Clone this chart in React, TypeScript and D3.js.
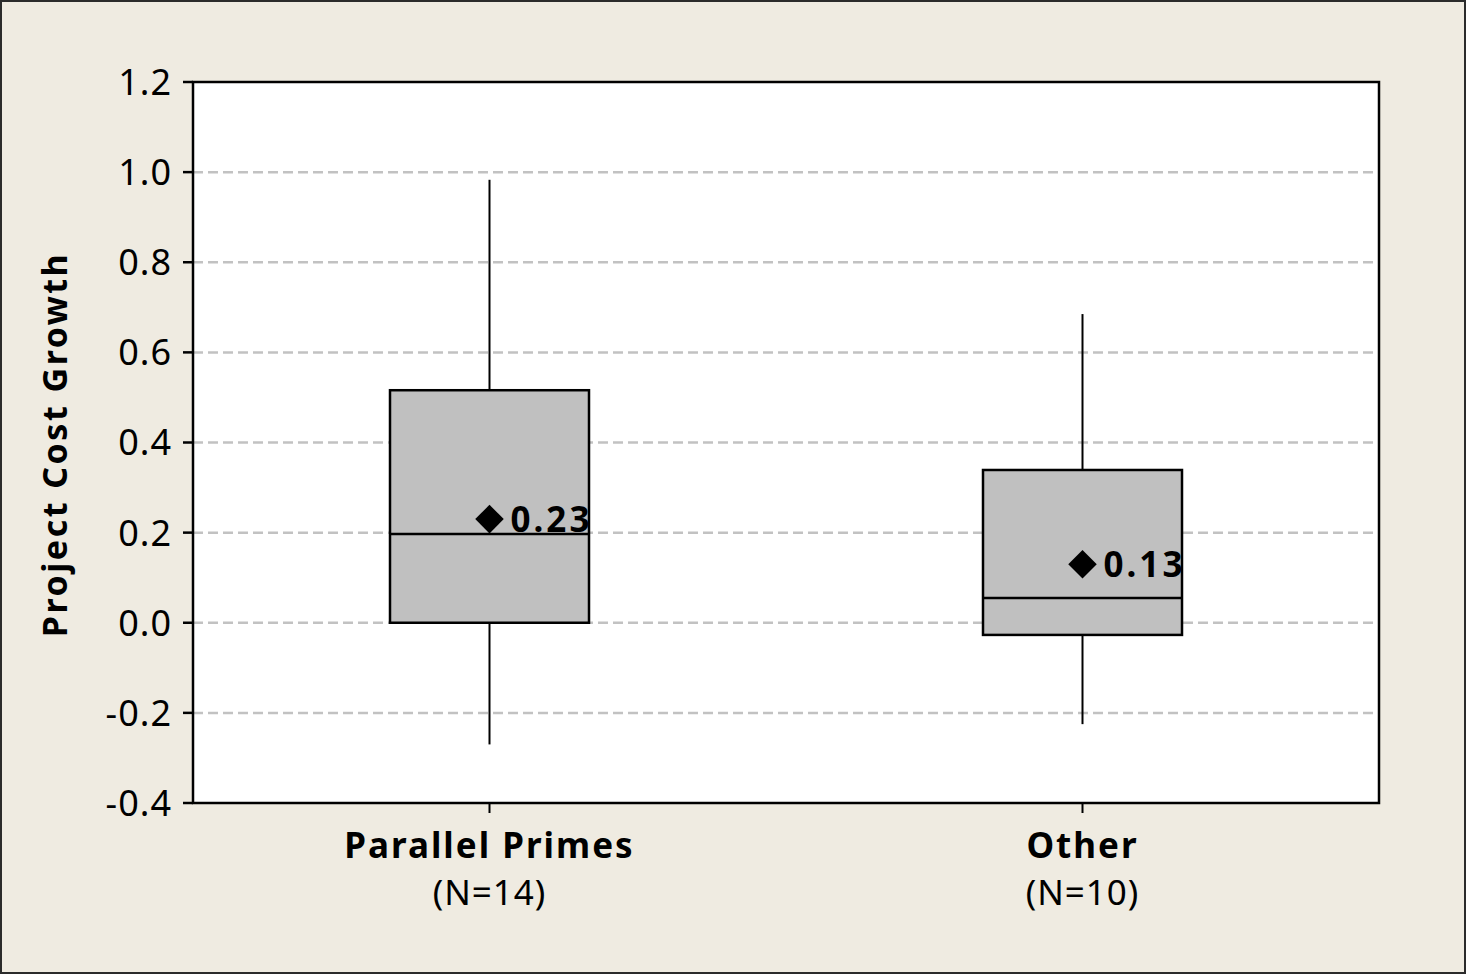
import React from "react";
import * as d3 from "d3";

const categories = ["Parallel Primes", "Other"];
const sampleLabels = ["(N=14)", "(N=10)"];
const whiskerLow = [-0.27, -0.225];
const q1 = [0.0, -0.027];
const median = [0.197, 0.055];
const q3 = [0.516, 0.339];
const whiskerHigh = [0.983, 0.685];
const means = [0.23, 0.13];
const meanLabels = ["0.23", "0.13"];
const yTicks = [-0.4, -0.2, 0.0, 0.2, 0.4, 0.6, 0.8, 1.0, 1.2];

const W = 1467;
const H = 975;
const left = 193;
const right = 1379;
const top = 82;
const bottom = 803;
const boxW = 199;
const FONT = "'Noto Sans', 'Open Sans', sans-serif";

const fmt = (t: number) => d3.format(".1f")(t).replace("\u2212", "-");

export default function App() {
  const x = d3.scalePoint<string>().domain(categories).range([left, right]).padding(0.5);
  const y = d3.scaleLinear().domain([-0.4, 1.2]).range([bottom, top]);
  const diamond = d3.symbol().type(d3.symbolDiamond2).size(520)();

  return (
    <svg
      width={W}
      height={H}
      style={{ position: "absolute", left: 0, top: 0, display: "block" }}
      fontFamily={FONT}
    >
      <rect x={1} y={1} width={W - 3} height={H - 3} fill="#EFEBE1" stroke="#2b2b2b" strokeWidth={2} />
      <rect x={left} y={top} width={right - left} height={bottom - top} fill="#ffffff" />
      {yTicks
        .filter((t) => t > -0.4 && t < 1.2)
        .map((t) => (
          <line
            key={"g" + t}
            x1={left}
            x2={right}
            y1={y(t)}
            y2={y(t)}
            stroke="#c2c2c2"
            strokeWidth={2.5}
            strokeDasharray="10 5"
          />
        ))}
      {categories.map((c, i) => {
        const cx = x(c)!;
        return (
          <g key={c}>
            <line x1={cx} x2={cx} y1={y(whiskerHigh[i])} y2={y(q3[i])} stroke="#000" strokeWidth={2} />
            <line x1={cx} x2={cx} y1={y(q1[i])} y2={y(whiskerLow[i])} stroke="#000" strokeWidth={2} />
            <rect
              x={cx - boxW / 2}
              y={y(q3[i])}
              width={boxW}
              height={y(q1[i]) - y(q3[i])}
              fill="#c0c0c0"
              stroke="#000"
              strokeWidth={2.5}
            />
            <line
              x1={cx - boxW / 2}
              x2={cx + boxW / 2}
              y1={y(median[i])}
              y2={y(median[i])}
              stroke="#000"
              strokeWidth={2.5}
            />
            <path d={diamond!} transform={`translate(${cx},${y(means[i])})`} fill="#000" />
            <text
              x={cx + 21}
              y={y(means[i])}
              dy="0.36em"
              fontSize={35}
              fontWeight="bold"
              letterSpacing={3}
              fill="#000"
            >
              {meanLabels[i]}
            </text>
            <line x1={cx} x2={cx} y1={bottom} y2={bottom + 10} stroke="#000" strokeWidth={2} />
            <text x={cx} y={858} textAnchor="middle" fontSize={35} fontWeight="bold" letterSpacing={2} fill="#000">
              {c}
            </text>
            <text x={cx} y={905} textAnchor="middle" fontSize={35} letterSpacing={1} fill="#000">
              {sampleLabels[i]}
            </text>
          </g>
        );
      })}
      <rect x={left} y={top} width={right - left} height={bottom - top} fill="none" stroke="#000" strokeWidth={2.5} />
      {yTicks.map((t) => (
        <g key={"t" + t}>
          <line x1={left - 10} x2={left} y1={y(t)} y2={y(t)} stroke="#000" strokeWidth={2.5} />
          <text x={172} y={y(t)} dy="0.36em" textAnchor="end" fontSize={36} fill="#000" letterSpacing={1}>
            {fmt(t)}
          </text>
        </g>
      ))}
      <text
        transform={`translate(67,${(top + bottom) / 2 + 2}) rotate(-90)`}
        textAnchor="middle"
        fontSize={34}
        fontWeight="bold"
        letterSpacing={2.5}
        fill="#000"
      >
        Project Cost Growth
      </text>
    </svg>
  );
}
